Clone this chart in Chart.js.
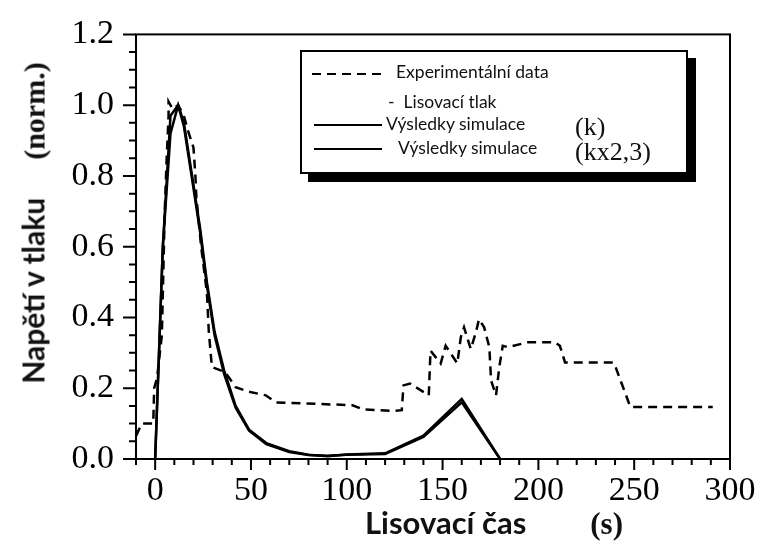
<!DOCTYPE html>
<html>
<head>
<meta charset="utf-8">
<script src="https://cdn.jsdelivr.net/npm/chart.js@4.4.1/dist/chart.umd.min.js"></script>
<style>
  body { margin: 0; background: #fff; }
  #wrap { position: relative; width: 762px; height: 541px; }
  .sans { font-family: Lato, "Open Sans", sans-serif; }
  .serif { font-family: "Liberation Serif", "Times New Roman", serif; }
  #ytitle { position: absolute; left: 33px; top: 223px; white-space: pre; color: #111;
            transform: translate(-50%, -50%) rotate(-90deg); }
  #xtitle { position: absolute; left: 365px; top: 503px; white-space: pre; color: #111; }
  #legend { position: absolute; left: 300px; top: 50px; width: 384px; height: 120px;
            border: 2px solid #000; background: #fff; box-shadow: 8px 8px 0 #000; }
  #legend .row { position: absolute; font-size: 17.5px; color: #111; white-space: pre; }
  #legend .dash { position: absolute; height: 2px;
            background: repeating-linear-gradient(90deg, #000 0 9px, transparent 9px 15px); }
  #legend .solid { position: absolute; height: 2px; background: #000; }
</style>
</head>
<body>
<div id="wrap">
  <canvas id="chart" width="762" height="541"></canvas>
  <div id="ytitle"><b class="sans" style="font-size:30px">Napětí v tlaku</b><b class="serif" style="font-size:30px;margin-left:38px">(norm.)</b></div>
  <div id="xtitle"><b class="sans" style="font-size:31px">Lisovací čas</b><b class="serif" style="font-size:31px;margin-left:64px">(s)</b></div>
  <div id="legend">
    <div class="dash" style="left:10px;top:21px;width:75px"></div>
    <div class="row sans" style="left:94px;top:9px">Experimentální data</div>
    <div class="row sans" style="left:86px;top:39px">-  Lisovací tlak</div>
    <div class="solid" style="left:12px;top:72px;width:68px"></div>
    <div class="row sans" style="left:84px;top:61px">Výsledky simulace</div>
    <div class="row serif" style="left:273px;top:60px;font-size:26px">(k)</div>
    <div class="solid" style="left:12px;top:96px;width:68px"></div>
    <div class="row sans" style="left:96px;top:85px">Výsledky simulace</div>
    <div class="row serif" style="left:273px;top:85px;font-size:26px">(kx2,3)</div>
  </div>
</div>
<script>
// experimental data (dashed)
var expT = [-10, -7, -1, -0.5, 1, 3.5, 5, 6, 7, 7, 9, 12, 15, 17, 20, 21, 21.5, 24, 27, 28, 29.6,
            36.6, 42, 49, 57.7, 63, 103, 108.6, 125, 128.7, 129.6, 133, 142.8, 143.7, 149, 151.6,
            157.7, 159.5, 161.2, 164.7, 167.4, 169, 171.7, 174.4, 175.3, 177.9, 179.6, 181.4, 184,
            194.6, 208.6, 211.2, 213.9, 239, 240, 248, 291];
var expV = [0.065, 0.1, 0.1, 0.2, 0.23, 0.35, 0.7, 0.85, 0.97, 1.01, 0.99, 1.0, 0.97, 0.93, 0.88, 0.8, 0.74, 0.6, 0.47, 0.36, 0.26,
            0.245, 0.203, 0.19, 0.18, 0.16, 0.152, 0.14, 0.136, 0.138, 0.208, 0.213, 0.18, 0.306, 0.27, 0.32,
            0.27, 0.344, 0.372, 0.311, 0.358, 0.395, 0.372, 0.316, 0.222, 0.18, 0.26, 0.32, 0.316,
            0.33, 0.33, 0.32, 0.273, 0.273, 0.264, 0.147, 0.147];

// simulation results (solid)
var simT   = [0, 4, 8, 12, 15, 19, 23.5, 27, 31, 36, 42, 49, 58, 70, 80, 90, 100, 120, 140, 160, 180];
var simK   = [0, 0.6, 0.92, 1.0, 0.95, 0.81, 0.65, 0.5, 0.36, 0.25, 0.15, 0.083, 0.045, 0.022, 0.012, 0.008, 0.013, 0.016, 0.066, 0.17, 0];
var simK23 = [0, 0.6, 0.97, 1.0, 0.94, 0.8, 0.64, 0.49, 0.35, 0.24, 0.145, 0.08, 0.042, 0.02, 0.011, 0.009, 0.012, 0.014, 0.062, 0.16, 0];

function pts(xs, ys) {
  return xs.map(function(t, i) { return {x: t, y: ys[i]}; });
}

// box around plot + major/minor tick marks
var frame = {
  id: 'frame',
  afterDraw: function(chart) {
    var ctx = chart.ctx, a = chart.chartArea, x = chart.scales.x, y = chart.scales.y;
    ctx.save();
    ctx.strokeStyle = '#000';
    ctx.lineWidth = 2;
    ctx.strokeRect(a.left, a.top, a.width, a.height);
    ctx.beginPath();
    x.ticks.forEach(function(t) {
      var px = x.getPixelForValue(t.value);
      var len = Math.round(t.value) % 50 === 0 ? 11 : 6;
      ctx.moveTo(px, a.bottom); ctx.lineTo(px, a.bottom + len);
    });
    y.ticks.forEach(function(t) {
      var py = y.getPixelForValue(t.value);
      var len = Math.round(t.value * 100) % 20 === 0 ? 13 : 7;
      ctx.moveTo(a.left, py); ctx.lineTo(a.left - len, py);
    });
    ctx.stroke();
    ctx.restore();
  }
};

var tickFont = {family: "'Liberation Serif', 'Times New Roman', serif", size: 34};

new Chart(document.getElementById('chart'), {
  type: 'scatter',
  data: {
    datasets: [
      {label: 'Experimentální data', data: pts(expT, expV), showLine: true, borderColor: '#000',
       borderWidth: 2.5, borderDash: [9, 6], pointRadius: 0},
      {label: 'Výsledky simulace (k)', data: pts(simT, simK), showLine: true, borderColor: '#000',
       borderWidth: 2.5, pointRadius: 0},
      {label: 'Výsledky simulace (kx2,3)', data: pts(simT, simK23), showLine: true, borderColor: '#000',
       borderWidth: 2.5, pointRadius: 0}
    ]
  },
  options: {
    responsive: false,
    animation: false,
    layout: {padding: {top: 28, right: 32, left: 0, bottom: 0}},
    plugins: {legend: {display: false}, tooltip: {enabled: false}},
    scales: {
      x: {
        type: 'linear', min: -10, max: 300,
        grid: {display: false}, border: {display: false},
        ticks: {stepSize: 10, autoSkip: false, maxRotation: 0, padding: 4, color: '#000', font: tickFont,
                callback: function(v) { return Math.round(v) % 50 === 0 ? v : ''; }},
        afterFit: function(s) { s.height = 82; }
      },
      y: {
        min: 0, max: 1.2,
        grid: {display: false}, border: {display: false},
        ticks: {stepSize: 0.05, autoSkip: false, padding: 14, color: '#000', font: tickFont,
                callback: function(v) { return Math.round(v * 100) % 20 === 0 ? v.toFixed(1) : ''; }},
        afterFit: function(s) { s.width = 136; }
      }
    }
  },
  plugins: [frame]
});
</script>
</body>
</html>
